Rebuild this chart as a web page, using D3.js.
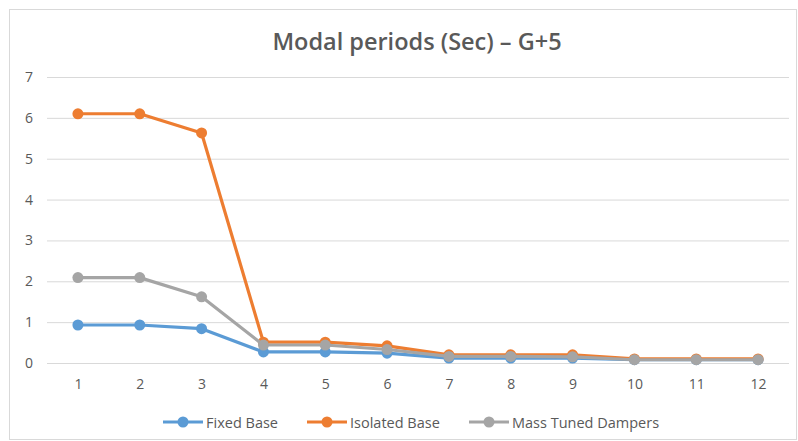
<!DOCTYPE html>
<html>
<head>
<meta charset="utf-8">
<script src="https://cdn.jsdelivr.net/npm/d3@7"></script>
<style>
  body { margin: 0; background: #fff; }
  svg { display: block; font-family: "Open Sans", "Noto Sans", sans-serif; }
</style>
</head>
<body>
<svg id="chart" width="798" height="441"></svg>
<script>
const modes = [1, 2, 3, 4, 5, 6, 7, 8, 9, 10, 11, 12];
const fixedBase    = [0.93, 0.93, 0.84, 0.27, 0.27, 0.24, 0.12, 0.12, 0.12, 0.08, 0.08, 0.08];
const isolatedBase = [6.10, 6.10, 5.63, 0.51, 0.51, 0.42, 0.20, 0.20, 0.20, 0.10, 0.10, 0.10];
const massTuned    = [2.09, 2.09, 1.62, 0.44, 0.44, 0.33, 0.16, 0.16, 0.15, 0.08, 0.08, 0.08];
const yTicks = [0, 1, 2, 3, 4, 5, 6, 7];

const series = [
  { name: "Fixed Base", values: fixedBase, color: "#5B9BD5" },
  { name: "Isolated Base", values: isolatedBase, color: "#ED7D31" },
  { name: "Mass Tuned Dampers", values: massTuned, color: "#A5A5A5" }
];

const width = 798, height = 441;
const margin = { top: 77, right: 9, bottom: 78, left: 47 };

const svg = d3.select("#chart");

// chart frame
svg.append("rect")
  .attr("x", 9.5).attr("y", 9.5)
  .attr("width", width - 11).attr("height", height - 11)
  .attr("fill", "#fff").attr("stroke", "#d9d9d9");

const x = d3.scalePoint(modes, [margin.left, width - margin.right]).padding(0.5);
const y = d3.scaleLinear([0, 7], [height - margin.bottom, margin.top]);

// gridlines
svg.append("g")
  .selectAll("line")
  .data(yTicks)
  .join("line")
    .attr("x1", margin.left).attr("x2", width - margin.right)
    .attr("y1", d => y(d) + 0.5).attr("y2", d => y(d) + 0.5)
    .attr("stroke", "#d9d9d9").attr("stroke-width", 1);

// y axis labels
const yAxis = svg.append("g")
  .attr("transform", `translate(${margin.left},0)`)
  .call(d3.axisLeft(y).tickValues(yTicks).tickFormat(d3.format("d")).tickSize(0).tickPadding(14));
yAxis.select(".domain").remove();
yAxis.selectAll("text").attr("font-size", 14).attr("fill", "#595959")
  .attr("font-family", "'Open Sans', sans-serif");

// x axis labels
const xAxis = svg.append("g")
  .attr("transform", `translate(0,${y(0)})`)
  .call(d3.axisBottom(x).tickSize(0).tickPadding(16));
xAxis.select(".domain").remove();
xAxis.selectAll("text").attr("font-size", 14).attr("fill", "#595959")
  .attr("font-family", "'Open Sans', sans-serif");

const line = d3.line()
  .x((d, i) => x(modes[i]))
  .y(d => y(d));

const lines = svg.append("g")
  .selectAll("g")
  .data(series)
  .join("g");

lines.append("path")
  .attr("fill", "none")
  .attr("stroke", d => d.color)
  .attr("stroke-width", 3.2)
  .attr("stroke-linejoin", "round")
  .attr("d", d => line(d.values));

lines.selectAll("circle")
  .data(d => d.values.map((v, i) => ({ v, i, color: d.color })))
  .join("circle")
    .attr("cx", d => x(modes[d.i]))
    .attr("cy", d => y(d.v))
    .attr("r", 5.5)
    .attr("fill", d => d.color);

// title
svg.append("text")
  .attr("x", 417).attr("y", 50)
  .attr("text-anchor", "middle")
  .attr("font-size", 23.5)
  .attr("font-weight", 600)
  .attr("fill", "#595959")
  .text("Modal periods (Sec) – G+5");

// legend
const legendX = [163, 307, 469];
const legend = svg.append("g")
  .selectAll("g")
  .data(series)
  .join("g")
    .attr("transform", (d, i) => `translate(${legendX[i]},422)`);

legend.append("line")
  .attr("x1", 0).attr("x2", 40)
  .attr("stroke", d => d.color).attr("stroke-width", 3.2);
legend.append("circle")
  .attr("cx", 20).attr("r", 5.5)
  .attr("fill", d => d.color);
legend.append("text")
  .attr("x", 43).attr("y", 5.5)
  .attr("font-size", 14.5)
  .attr("fill", "#595959")
  .text(d => d.name);
</script>
</body>
</html>
